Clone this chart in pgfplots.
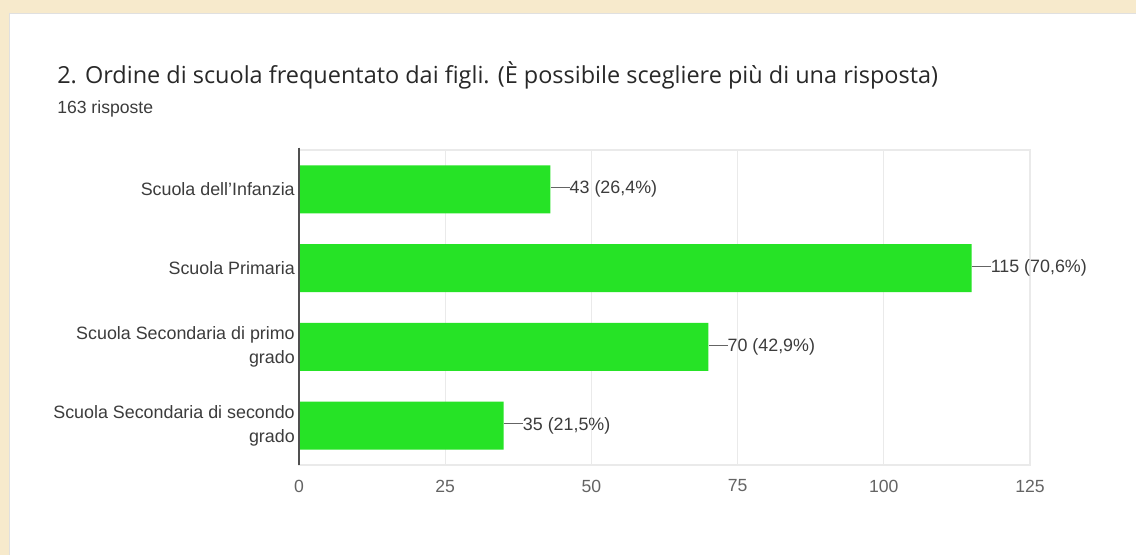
\documentclass[border=0pt]{standalone}
\usepackage{pgfplots}
\usepackage{pgfplotstable}
\pgfplotsset{compat=1.18}
\usepackage{fontspec}
\setmainfont{Liberation Sans}
\newfontfamily\titlefont{Open Sans}

\definecolor{bg}{RGB}{247,234,204}
\definecolor{barg}{RGB}{38,227,38}
\definecolor{labc}{RGB}{60,60,60}
\definecolor{tickc}{RGB}{100,100,100}
\definecolor{gridc}{RGB}{234,234,234}
\definecolor{axc}{RGB}{80,80,80}
\definecolor{titlec}{RGB}{40,40,40}

\pgfplotstableread{
y v pct
0 43 26,4
1 115 70,6
2 70 42,9
3 35 21,5
}\datatable

\begin{document}
\begin{tikzpicture}[x=0.75pt,y=0.75pt]
\fill[bg] (0,0) rectangle (1136,555);
\fill[white] (9,0) rectangle (1136,542);
\draw[black!12] (9,0) -- (9,542) -- (1136,542);
\node[anchor=base west, inner sep=0, text=titlec,
  font=\titlefont\fontsize{17.6}{22}\selectfont] at (57,{555-84})
  {2. Ordine di scuola frequentato dai figli. (È possibile scegliere più di una risposta)};
\node[anchor=base west, inner sep=0, text=labc,
  font=\fontsize{13.2}{16}\selectfont] at (57,{555-114}) {163 risposte};
\begin{axis}[
  at={(224.25pt,67.5pt)}, anchor=south west,
  scale only axis, width=548.25pt, height=236.25pt,
  xbar, xmin=0, xmax=125, ymin=-0.5, ymax=3.5, y dir=reverse,
  ytick={0,1,2,3},
  yticklabels={Scuola dell'Infanzia, Scuola Primaria, {Scuola Secondaria di primo\\grado}, {Scuola Secondaria di secondo\\grado}},
  yticklabel style={align=right, anchor=east, inner sep=0, xshift=-3pt, text=labc,
    font=\fontsize{13.4}{18}\selectfont},
  xtick={0,25,50,75,100,125},
  /pgf/number format/assume math mode=true,
  xticklabel style={inner sep=0, yshift=-10.9pt, text=tickc, font=\fontsize{13.2}{16}\selectfont},
  xmajorgrids, grid style={gridc, line width=0.8pt},
  axis line style={gridc, line width=0.8pt},
  major tick length=0, tick style={draw=none},
  bar width=0.61,
  point meta=explicit symbolic,
  visualization depends on={\thisrow{v} \as \rawv},
  nodes near coords={\textcolor{tickc}{\rule[0.33em]{14.25pt}{0.8pt}}\pgfmathprintnumber[fixed,precision=0]{\rawv}\ (\pgfplotspointmeta\%)},
  nodes near coords style={anchor=west, inner sep=0, text=labc, font=\fontsize{13.4}{16}\selectfont},
  clip=false,
]
\addplot[fill=barg, draw=none] table[x=v, y=y, meta=pct] {\datatable};
\draw[axc, line width=1.6pt] (axis cs:0,-0.53) -- (axis cs:0,3.5);
\end{axis}
\pgfresetboundingbox
\path[use as bounding box] (0,0) rectangle (1136,555);
\end{tikzpicture}
\end{document}
